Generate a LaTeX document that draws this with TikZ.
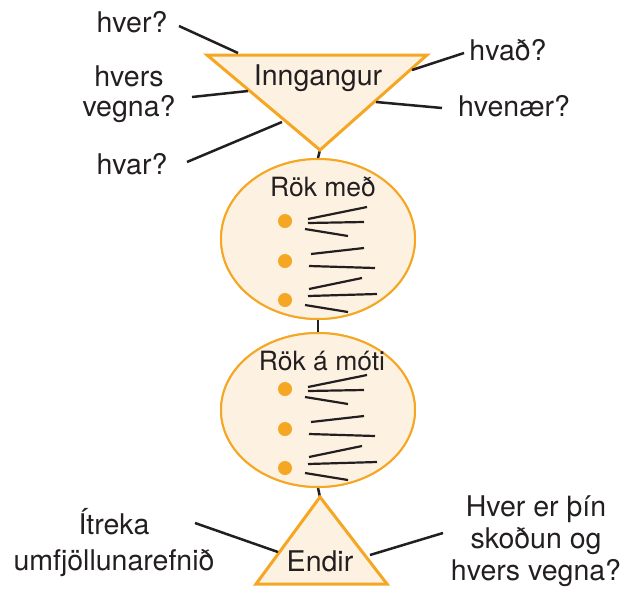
\documentclass[tikz,border=0pt]{standalone}
\usepackage{fontspec}
\setmainfont{TeX Gyre Heros}
\usetikzlibrary{shapes.geometric}
\definecolor{org}{HTML}{F5A623}
\definecolor{cream}{HTML}{FDF1E1}
\definecolor{ink}{HTML}{231F20}
\begin{document}
\begin{tikzpicture}[x=1pt,y=-1pt,
  lbl/.style={font=\fontsize{28.5}{30}\selectfont, text=ink, align=center, inner sep=0pt},
  elbl/.style={lbl, font=\fontsize{26.5}{30}\selectfont},
  tri/.style={draw=org, fill=cream, line width=3pt, line join=miter},
  oval/.style={ellipse, draw=org, fill=cream, line width=2pt, minimum width=194pt, minimum height=160pt, inner sep=0pt},
  conn/.style={draw=ink, line width=2.5pt},
  stroke/.style={draw=ink, line width=2.2pt},
  dot/.style={circle, fill=org, inner sep=0pt, minimum size=14pt}]
\useasboundingbox (0,0) rectangle (626,590);
% connectors between shapes (behind)
\coordinate (tA) at (320,150);
\coordinate (eA) at (320,497);
\node[oval] (e1) at (318,239) {};
\node[oval, minimum height=154pt] (e2) at (318,410) {};
\draw[conn] (tA) -- (e1.north);
\draw[conn] (e1.south) -- (e2.north);
\draw[conn] (e2.south) -- (eA);
\node[oval] at (318,239) {};
\node[oval, minimum height=154pt] at (318,410) {};
% top triangle
\coordinate (tL) at (207,55);
\coordinate (tR) at (427,55);
\draw[tri] (tL) -- (tR) -- (tA) -- cycle;
\node[lbl] (inn) at (318,78) {Inngangur};
% bottom triangle
\coordinate (bL) at (256,584);
\coordinate (bR) at (387,584);
\draw[tri] (eA) -- (bR) -- (bL) -- cycle;
\node[lbl] (end) at (320,561) {Endir};
% ellipse labels
\node[elbl] (rm) at (323,187) {Rök með};
\node[elbl] (ra) at (322,361) {Rök á móti};
% bullets and strokes
\foreach \dy/\nm in {0/a,168/b}{
  \begin{scope}[yshift=-\dy pt]
    \node[dot] (d1\nm) at (285,221) {};
    \node[dot] (d2\nm) at (285,261) {};
    \node[dot] (d3\nm) at (285,300) {};
    \draw[stroke] (308,219) -- (367,207);
    \draw[stroke] (308,223) -- (364,222);
    \draw[stroke] (305,229) -- (348,236);
    \draw[stroke] (311,254) -- (364,248);
    \draw[stroke] (309,266) -- (375,268);
    \draw[stroke] (309,289) -- (362,278);
    \draw[stroke] (308,296) -- (377,294);
    \draw[stroke] (305,305) -- (348,312);
  \end{scope}
}
% question labels
\node[lbl] (q1) at (132,22) {hver?};
\node[lbl] (q2) at (129,94) {hvers\\vegna?};
\node[lbl] (q3) at (132,164) {hvar?};
\node[lbl] (q4) at (508,50) {hvað?};
\node[lbl] (q5) at (514,106) {hvenær?};
\coordinate (c1a) at (179,26); \coordinate (c1b) at (238,53);
\coordinate (c2a) at (192,97); \coordinate (c2b) at (248,91);
\coordinate (c3a) at (187,162); \coordinate (c3b) at (282,122);
\coordinate (c4a) at (464,53); \coordinate (c4b) at (412,70);
\coordinate (c5a) at (442,108); \coordinate (c5b) at (376,102);
\draw[conn] (c1a) -- (c1b);
\draw[conn] (c2a) -- (c2b);
\draw[conn] (c3a) -- (c3b);
\draw[conn] (c4a) -- (c4b);
\draw[conn] (c5a) -- (c5b);
% bottom labels
\node[lbl, font=\fontsize{28.5}{36}\selectfont] (L) at (114,543) {Ítreka\\umfjöllunarefnið};
\node[lbl, font=\fontsize{28.5}{32}\selectfont] (R) at (536,541) {Hver er þín\\skoðun og\\hvers vegna?};
\coordinate (c6a) at (195,523); \coordinate (c6b) at (278,552);
\coordinate (c7a) at (443,533); \coordinate (c7b) at (370,555);
\draw[conn] (c6a) -- (c6b);
\draw[conn] (c7a) -- (c7b);
\end{tikzpicture}
\end{document}
